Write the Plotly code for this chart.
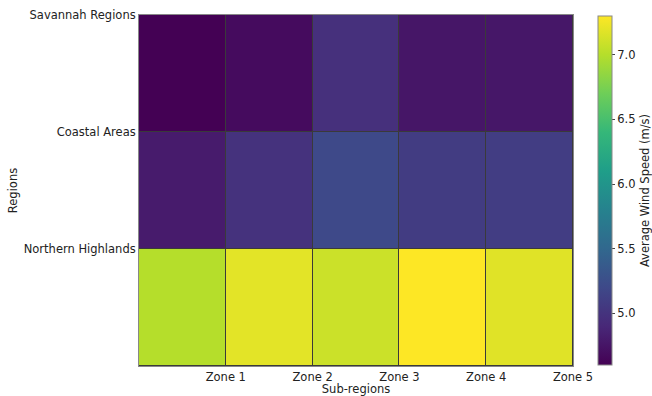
import plotly.graph_objects as go

# Average wind speed (m/s) per region and sub-region zone
regions = ["Savannah Regions", "Coastal Areas", "Northern Highlands"]
zones = ["Zone 1", "Zone 2", "Zone 3", "Zone 4", "Zone 5"]
savannah = [4.60, 4.68, 4.97, 4.76, 4.77]
coastal = [4.80, 4.99, 5.20, 5.08, 5.09]
northern = [7.00, 7.19, 7.09, 7.30, 7.18]
cbar_ticks = [5.0, 5.5, 6.0, 6.5, 7.0]

z = [savannah, coastal, northern]
x_edges = list(range(len(zones) + 1))
y_edges = list(range(len(regions) + 1))

font = "DejaVu Sans, Liberation Sans, sans-serif"
fs = 11.5

fig = go.Figure(
    go.Heatmap(
        z=z,
        x=x_edges,
        y=y_edges,
        colorscale="Viridis",
        zmin=min(min(r) for r in z),
        zmax=max(max(r) for r in z),
        xgap=1,
        ygap=1,
        colorbar=dict(
            x=1.057,
            xanchor="left",
            xpad=0,
            y=0.5,
            yanchor="middle",
            ypad=0,
            len=0.995,
            thickness=14,
            outlinecolor="#888888",
            outlinewidth=1,
            tickvals=cbar_ticks,
            tickformat=".1f",
            ticks="outside",
            ticklen=3,
            tickcolor="#444444",
            tickfont=dict(family=font, size=fs, color="#222222"),
            title=dict(
                text="Average Wind Speed (m/s)",
                side="right",
                font=dict(family=font, size=fs, color="#222222"),
            ),
        ),
        hovertemplate="%{z:.2f}<extra></extra>",
    )
)

fig.update_layout(
    width=652,
    height=396,
    margin=dict(l=139, r=79, t=15, b=30, autoexpand=False),
    paper_bgcolor="white",
    plot_bgcolor="#3a3a3a",
    font=dict(family=font, size=fs, color="#222222"),
)

fig.update_xaxes(
    range=[0, len(zones)],
    tickvals=list(range(1, len(zones) + 1)),
    ticktext=zones,
    showgrid=False,
    zeroline=False,
    showline=True,
    linecolor="#888888",
    linewidth=1,
    mirror=True,
    ticks="",
    ticklabelstandoff=0,
    automargin=False,
    tickfont=dict(family=font, size=fs, color="#222222"),
    title=dict(text="Sub-regions", standoff=0, font=dict(family=font, size=fs)),
)

fig.update_yaxes(
    range=[len(regions), 0],
    tickvals=list(range(len(regions))),
    ticktext=regions,
    showgrid=False,
    zeroline=False,
    showline=True,
    linecolor="#888888",
    linewidth=1,
    mirror=True,
    ticks="",
    automargin=False,
    tickfont=dict(family=font, size=fs, color="#222222"),
    title=dict(text="Regions", standoff=3, font=dict(family=font, size=fs)),
)

fig.write_html("out.html")
